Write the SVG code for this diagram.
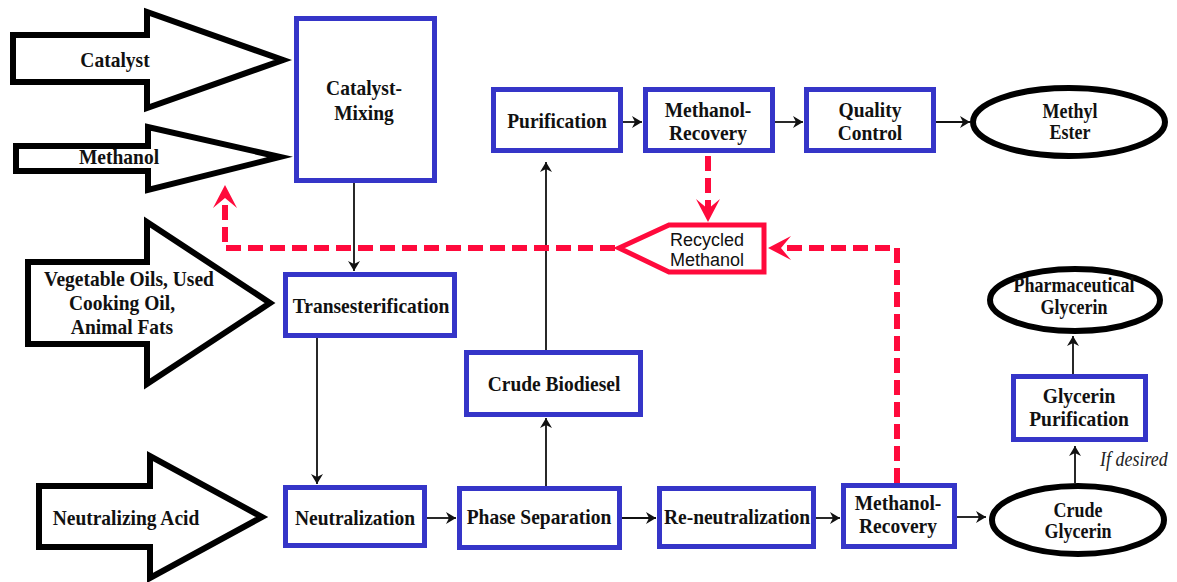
<svg xmlns="http://www.w3.org/2000/svg" width="1177" height="582" viewBox="0 0 1177 582">
<defs>
<style>
.box{fill:#fff;stroke:#3535c8;stroke-width:5}
.blk{fill:#fff;stroke:#000;stroke-width:6;stroke-miterlimit:10;stroke-linejoin:miter}
.ell{fill:#fff;stroke:#000;stroke-width:6}
.t{font-family:"Liberation Serif","Times New Roman",serif;font-weight:bold;font-size:19.5px;fill:#111;text-anchor:middle}
.te{font-family:"Liberation Serif","Times New Roman",serif;font-weight:bold;font-size:18px;fill:#111;text-anchor:middle}
.ts{font-family:"Liberation Sans",Arial,sans-serif;font-size:18px;fill:#111;text-anchor:middle}
.ti{font-family:"Liberation Serif","Times New Roman",serif;font-style:italic;font-size:18px;fill:#222}
.ln{fill:none;stroke:#111;stroke-width:1.8;marker-end:url(#ah)}
.rd{fill:none;stroke:#ff0a3c;stroke-width:6;stroke-dasharray:15 7;stroke-linejoin:miter;marker-end:url(#rh)}
.rp{fill:#fff;stroke:#ff0a3c;stroke-width:5;stroke-linejoin:miter}
</style>
<marker id="ah" markerUnits="userSpaceOnUse" viewBox="0 -7 11 14" refX="10" refY="0" markerWidth="11" markerHeight="14" orient="auto">
<path d="M0,-6 L10,0 L0,6 L3,0 Z" fill="#111"/>
</marker>
<marker id="rh" markerUnits="userSpaceOnUse" viewBox="0 -13 24 26" refX="10" refY="0" markerWidth="24" markerHeight="26" orient="auto">
<path d="M0,-12 L23,0 L0,12 L10,0 Z" fill="#ff0a3c"/>
</marker>
</defs>
<rect width="1177" height="582" fill="#fff"/>

<g id="connectors">
<path class="ln" d="M354,183 L354,271"/>
<path class="ln" d="M317,338 L317,484"/>
<path class="ln" d="M427,518 L456,518"/>
<path class="ln" d="M546,486 L546,418"/>
<path class="ln" d="M546,350 L546,162"/>
<path class="ln" d="M623,122 L642,122"/>
<path class="ln" d="M775,122 L803,122"/>
<path class="ln" d="M936,122 L970,122"/>
<path class="ln" d="M622,518 L656,518"/>
<path class="ln" d="M816,518 L840,518"/>
<path class="ln" d="M957,517 L986,517"/>
<path class="ln" d="M1075,483 L1075,446"/>
<path class="ln" d="M1073,374 L1073,336"/>
<path class="rd" d="M708,156 L708,209"/>
<path class="rd" d="M615,248 L225,248 L225,198"/>
<path class="rd" d="M897,483 L897,248 L781,248"/>
</g>

<g id="catalyst">
<path class="blk" d="M13,35 L147,35 L147,12 L283,60 L147,108 L147,82 L13,82 Z"/>
<text class="t" x="115" y="67" transform="matrix(1 0 0 1.12 0 -8.04)">Catalyst</text>
</g>
<g id="methanol">
<path class="blk" d="M16,146 L148,146 L148,127 L280,157 L148,190 L148,171 L16,171 Z"/>
<text class="t" x="119" y="164" transform="matrix(1 0 0 1.12 0 -19.68)">Methanol</text>
</g>
<g id="oils">
<path class="blk" d="M28,262 L147,262 L147,222 L270,303 L147,384 L147,344 L28,344 Z"/>
<text class="t" x="129" y="286" transform="matrix(1 0 0 1.12 0 -34.32)">Vegetable Oils, Used</text>
<text class="t" x="122" y="310" transform="matrix(1 0 0 1.12 0 -37.2)">Cooking Oil,</text>
<text class="t" x="122" y="334" transform="matrix(1 0 0 1.12 0 -40.08)">Animal Fats</text>
</g>
<g id="acid">
<path class="blk" d="M39,486 L150,486 L150,456 L262,517 L150,578 L150,547 L39,547 Z"/>
<text class="t" x="126" y="525" transform="matrix(1 0 0 1.12 0 -63)">Neutralizing Acid</text>
</g>

<g id="catalyst-mixing">
<rect class="box" x="296.5" y="18.5" width="138" height="162"/>
<text class="t" x="364" y="95" transform="matrix(1 0 0 1.12 0 -11.4)">Catalyst-</text>
<text class="t" x="364" y="120" transform="matrix(1 0 0 1.12 0 -14.4)">Mixing</text>
</g>
<g id="transesterification">
<rect class="box" x="285.5" y="274.5" width="169" height="61"/>
<text class="t" x="371" y="313" transform="matrix(1 0 0 1.12 0 -37.56)">Transesterification</text>
</g>
<g id="neutralization">
<rect class="box" x="285.5" y="487.5" width="139" height="58"/>
<text class="t" x="355" y="525" transform="matrix(1 0 0 1.12 0 -63)">Neutralization</text>
</g>
<g id="phase-separation">
<rect class="box" x="459.5" y="488.5" width="160" height="59"/>
<text class="t" x="539" y="524" transform="matrix(1 0 0 1.12 0 -62.88)">Phase Separation</text>
</g>
<g id="crude-biodiesel">
<rect class="box" x="466.5" y="352.5" width="174" height="62"/>
<text class="t" x="554" y="391" transform="matrix(1 0 0 1.12 0 -46.92)">Crude Biodiesel</text>
</g>
<g id="purification">
<rect class="box" x="493.5" y="89.5" width="127" height="61"/>
<text class="t" x="557" y="128" transform="matrix(1 0 0 1.12 0 -15.36)">Purification</text>
</g>
<g id="methanol-recovery-top">
<rect class="box" x="645.5" y="89.5" width="127" height="61"/>
<text class="t" x="708" y="117" transform="matrix(1 0 0 1.12 0 -14.04)">Methanol-</text>
<text class="t" x="708" y="140" transform="matrix(1 0 0 1.12 0 -16.8)">Recovery</text>
</g>
<g id="quality-control">
<rect class="box" x="806.5" y="89.5" width="127" height="61"/>
<text class="t" x="870" y="117" transform="matrix(1 0 0 1.12 0 -14.04)">Quality</text>
<text class="t" x="870" y="140" transform="matrix(1 0 0 1.12 0 -16.8)">Control</text>
</g>
<g id="methyl-ester">
<ellipse class="ell" cx="1069" cy="122" rx="96" ry="34"/>
<text class="te" x="1070" y="118" transform="matrix(1 0 0 1.12 0 -14.16)">Methyl</text>
<text class="te" x="1070" y="139" transform="matrix(1 0 0 1.12 0 -16.68)">Ester</text>
</g>
<g id="recycled-methanol">
<path class="rp" d="M619,248 L669,225 L764,225 L764,272 L669,272 Z"/>
<text class="ts" x="707" y="246">Recycled</text>
<text class="ts" x="707" y="266">Methanol</text>
</g>
<g id="re-neutralization">
<rect class="box" x="659.5" y="488.5" width="154" height="58"/>
<text class="t" x="737" y="524" transform="matrix(1 0 0 1.12 0 -62.88)">Re-neutralization</text>
</g>
<g id="methanol-recovery-bottom">
<rect class="box" x="843.5" y="485.5" width="111" height="61"/>
<text class="t" x="898" y="510" transform="matrix(1 0 0 1.12 0 -61.2)">Methanol-</text>
<text class="t" x="898" y="533" transform="matrix(1 0 0 1.12 0 -63.96)">Recovery</text>
</g>
<g id="crude-glycerin">
<ellipse class="ell" cx="1078" cy="520" rx="86" ry="34"/>
<text class="te" x="1078" y="517" transform="matrix(1 0 0 1.12 0 -62.04)">Crude</text>
<text class="te" x="1078" y="538" transform="matrix(1 0 0 1.12 0 -64.56)">Glycerin</text>
</g>
<g id="glycerin-purification">
<rect class="box" x="1013.5" y="376.5" width="132" height="63"/>
<text class="t" x="1079" y="403" transform="matrix(1 0 0 1.12 0 -48.36)">Glycerin</text>
<text class="t" x="1079" y="426" transform="matrix(1 0 0 1.12 0 -51.12)">Purification</text>
</g>
<g id="pharmaceutical-glycerin">
<ellipse class="ell" cx="1075" cy="300" rx="85" ry="31"/>
<text class="te" x="1074" y="292" transform="matrix(1 0 0 1.12 0 -35.04)">Pharmaceutical</text>
<text class="te" x="1074" y="314" transform="matrix(1 0 0 1.12 0 -37.68)">Glycerin</text>
</g>
<text class="ti" x="1100" y="466" transform="matrix(1 0 0 1.12 0 -55.92)">If desired</text>
</svg>
